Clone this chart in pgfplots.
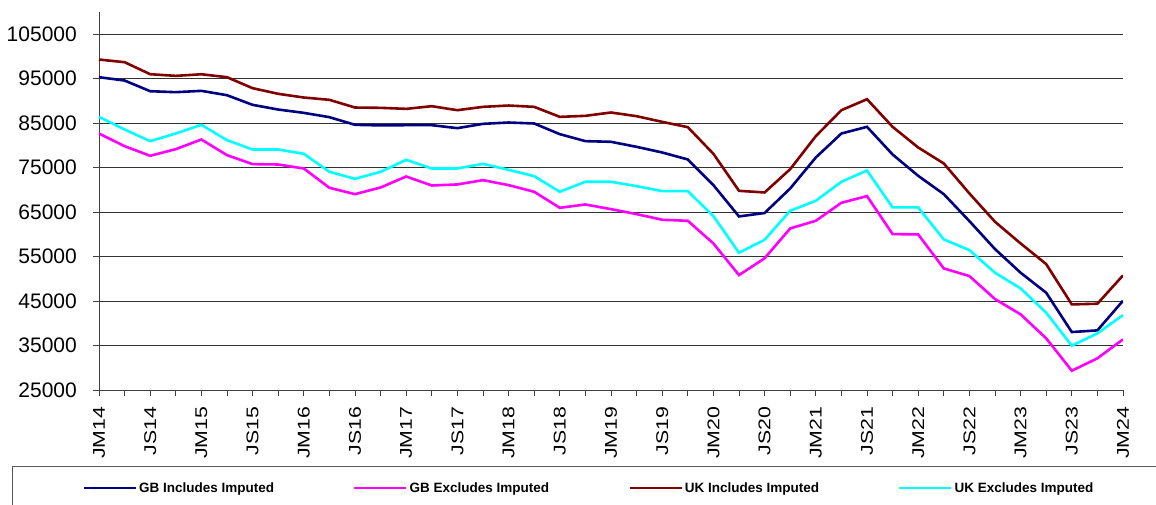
\documentclass[border=0pt]{standalone}
\usepackage{fontspec}
\setmainfont{Liberation Sans}
\usepackage{graphicx}
\usepackage{pgfplots}
\pgfplotsset{compat=1.18}
\definecolor{cNavy}{RGB}{0,0,128}
\definecolor{cMag}{RGB}{255,0,255}
\definecolor{cDRed}{RGB}{128,0,0}
\definecolor{cCyan}{RGB}{0,255,255}
\newcommand\W[1]{\scalebox{1.25}[1]{#1}}
\pgfplotstableread{
x gbi gbe uki uke
0 95340 82680 99310 86420
1 94590 79830 98710 83580
2 92190 77660 96010 80960
3 91970 79160 95640 82680
4 92270 81330 96000 84630
5 91290 77810 95340 81180
6 89120 75790 92870 79080
7 88070 75710 91600 79080
8 87320 74810 90770 78110
9 86350 70470 90250 74060
10 84630 69040 88520 72490
11 84500 70540 88450 74060
12 84550 73010 88220 76760
13 84550 70990 88820 74810
14 83880 71220 87920 74810
15 84850 72190 88670 75860
16 85150 71070 88970 74510
17 84930 69570 88670 73090
18 82530 65970 86420 69570
19 80960 66720 86650 71820
20 80810 65670 87400 71820
21 79680 64550 86570 70840
22 78410 63280 85300 69720
23 76840 63050 84100 69720
24 71070 57960 78110 64100
25 64030 50840 69790 55860
26 64800 54620 69420 58780
27 70320 61330 74660 65300
28 77280 63050 82080 67550
29 82680 67100 87920 71820
30 84180 68600 90390 74360
31 77960 60060 84180 66050
32 73160 59980 79530 66050
33 69040 52340 75940 58860
34 62980 50620 69200 56460
35 56690 45450 62830 51370
36 51370 42010 57960 47850
37 46870 36610 53310 42380
38 38030 29340 44250 34960
39 38410 32120 44400 37730
40 45070 36390 50770 41850
}\datatable
\begin{document}
\begin{tikzpicture}
\useasboundingbox (0,0) rectangle (1156pt,504pt);
\draw[line width=1pt, black!65] (12pt,-20pt) rectangle (1180pt,38pt);
\begin{axis}[
  at={(99pt,114pt)}, anchor=south west, scale only axis,
  width=1024pt, height=378pt,
  xmin=0, xmax=40, ymin=25000, ymax=110000,
  axis x line*=bottom, axis y line*=left,
  axis line style={-, line width=0.9pt, black!75},
  xtick={0,2,...,40}, minor xtick={1,3,...,39},
  xticklabels={\W{JM14},\W{JS14},\W{JM15},\W{JS15},\W{JM16},\W{JS16},\W{JM17},\W{JS17},\W{JM18},\W{JS18},\W{JM19},\W{JS19},\W{JM20},\W{JS20},\W{JM21},\W{JS21},\W{JM22},\W{JS22},\W{JM23},\W{JS23},\W{JM24}},
  scaled y ticks=false,
  ytick={25000,35000,45000,55000,65000,75000,85000,95000,105000},
  yticklabels={25000,35000,45000,55000,65000,75000,85000,95000,105000},
  ymajorgrids, major grid style={line width=0.9pt, black!80},
  tick align=outside, major tick length=6pt, minor tick length=6pt,
  tick style={line width=0.9pt, black!75},
  xticklabel style={rotate=90, anchor=east, inner xsep=10.5pt, font=\fontsize{17}{20}\selectfont},
  yticklabel style={inner xsep=16pt, font=\fontsize{21}{24}\selectfont},
  legend columns=4,
  legend style={draw=none, fill=none, at={(0.4785,-0.2593)}, anchor=center,
    font=\fontsize{13.5}{16}\selectfont\bfseries,
    /tikz/every even column/.append style={column sep=77pt}},
  legend image code/.code={\draw[#1, line width=2.6pt] (0pt,0pt) -- (52pt,0pt);},
  every axis plot/.append style={line width=2.6pt},
]
\addplot[cNavy] table[x=x,y=gbi]{\datatable};
\addlegendentry{GB Includes Imputed}
\addplot[cMag] table[x=x,y=gbe]{\datatable};
\addlegendentry{GB Excludes Imputed}
\addplot[cDRed] table[x=x,y=uki]{\datatable};
\addlegendentry{UK Includes Imputed}
\addplot[cCyan] table[x=x,y=uke]{\datatable};
\addlegendentry{UK Excludes Imputed}
\end{axis}
\end{tikzpicture}
\end{document}
